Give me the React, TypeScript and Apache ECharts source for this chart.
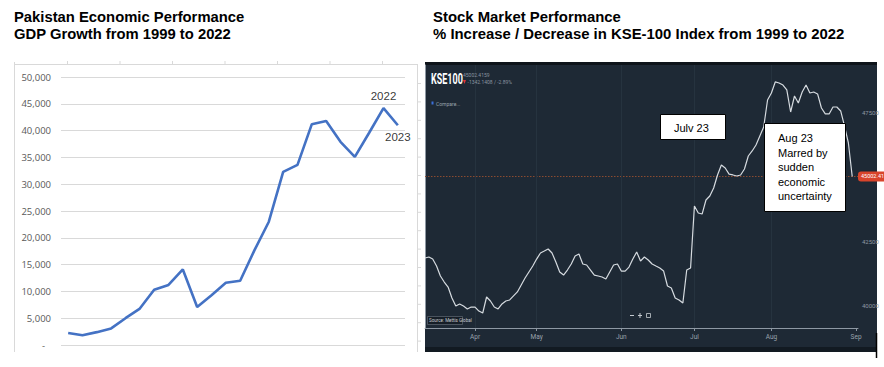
import React, { useEffect, useRef } from "react";
import * as echarts from "echarts";

// ---------- Left chart data (GDP, USD) ----------
const gdpYears = [
  "2000", "2001", "2002", "2003", "2004", "2005", "2006", "2007", "2008", "2009", "2010", "2011",
  "2012", "2013", "2014", "2015", "2016", "2017", "2018", "2019", "2020", "2021", "2022", "2023",
];
const gdpValues = [
  2240, 1820, 2400, 3100, 5000, 6800, 10300, 11200, 14100, 7100, 9300, 11600,
  12000, 17700, 23000, 32300, 33600, 41200, 41800, 37900, 35100, 39600, 44200, 41000,
];
const gdpAnnotated = ["2022", "2023"];

// ---------- Right chart data (KSE-100, trading days) ----------
const kseValues = [
  41840, 41880, 41800, 41530, 41145, 40910, 40715, 40290, 39980, 40060,
  39980, 39865, 39940, 39940, 39785, 39710, 40330, 40175, 39940, 39865,
  40060, 40175, 40215, 40370, 40525, 40795, 41065, 41300, 41530, 41800,
  42035, 42110, 42190, 42035, 41685, 41300, 41180, 41375, 41610, 41920,
  41995, 41610, 41570, 41375, 41180, 41145, 41105, 41025, 41300, 41570,
  41610, 41335, 41335, 41490, 41800, 42075, 41725, 41880, 41765, 41610,
  41530, 41455, 41335, 40755, 40680, 40290, 40215, 40095, 41375, 41455,
  43855, 43585, 43545, 44090, 44245, 44555, 45060, 45445, 45330, 45095,
  45060, 45020, 45060, 45290, 45795, 45990, 46220, 46570, 46920, 47965,
  48235, 48665, 48625, 48545, 48355, 47500, 48120, 47850, 48275, 48545,
  48235, 48275, 48200, 47655, 47425, 47425, 47695, 47695, 47540, 46955,
  46300, 45002,
];
const monthLabels = ["Apr", "May", "Jun", "Jul", "Aug", "Sep"];
const monthDays = [13, 29, 51, 70, 90, 112];
const kseTicks = [40000, 42500, 47500];
const lastPrice = 45002.41;

const leftTitle = ["Pakistan Economic Performance", "GDP Growth from 1999 to 2022"];
const rightTitle = ["Stock Market Performance", "% Increase / Decrease in KSE-100 Index from 1999 to 2022"];
const julyNote = "Julv 23";
const augNote = ["Aug 23", "Marred by", "sudden", "economic", "uncertainty"];

export default function App() {
  const ref = useRef<HTMLDivElement>(null);

  useEffect(() => {
    if (!ref.current) return;
    const chart = echarts.init(ref.current, null, { renderer: "svg" });

    const gray = "#d9d9d9";
    const graphics: any[] = [];

    // titles
    leftTitle.forEach((t, i) =>
      graphics.push({
        type: "text", x: 14, y: 17 + i * 16.5, z: 50,
        style: { text: t, font: "bold 14.8px 'Liberation Sans', Arial", fill: "#000", verticalAlign: "middle" },
      })
    );
    rightTitle.forEach((t, i) =>
      graphics.push({
        type: "text", x: 433, y: 17 + i * 16.5, z: 50,
        style: { text: t, font: "bold 14.9px 'Liberation Sans', Arial", fill: "#000", verticalAlign: "middle" },
      })
    );

    // left frame decorations
    graphics.push({ type: "line", z: 1, shape: { x1: 14.5, y1: 62, x2: 14.5, y2: 352 }, style: { stroke: gray, lineWidth: 1 } });
    graphics.push({ type: "line", z: 1, shape: { x1: 14, y1: 64.5, x2: 417, y2: 64.5 }, style: { stroke: gray, lineWidth: 1 } });
    graphics.push({ type: "line", z: 1, shape: { x1: 417.5, y1: 64, x2: 417.5, y2: 352 }, style: { stroke: gray, lineWidth: 1 } });
    for (let k = 0; k < 7; k++) {
      const x = 67.5 + k * 52.5;
      graphics.push({ type: "line", z: 1, shape: { x1: x, y1: 61, x2: x, y2: 64 }, style: { stroke: gray, lineWidth: 1 } });
    }
    for (let k = 0; k < 15; k++) {
      const y = 83.5 + k * 18.4;
      graphics.push({ type: "line", z: 1, shape: { x1: 417, y1: y, x2: 421, y2: y }, style: { stroke: gray, lineWidth: 1 } });
    }

    // dark panel
    graphics.push({ type: "rect", z: -10, shape: { x: 425, y: 62, width: 452, height: 290 }, style: { fill: "#1e2935" } });
    graphics.push({ type: "rect", z: -9, shape: { x: 425, y: 62, width: 452, height: 3 }, style: { fill: "#0e141a" } });
    graphics.push({ type: "rect", z: -9, shape: { x: 425, y: 347, width: 452, height: 5 }, style: { fill: "#121a22" } });
    graphics.push({ type: "line", z: 5, shape: { x1: 876.5, y1: 333, x2: 876.5, y2: 358 }, style: { stroke: "#000", lineWidth: 1.5 } });

    // stock header
    graphics.push({
      type: "text", x: 431, y: 79, scaleX: 0.6, z: 20,
      style: { text: "KSE100", font: "bold 15px Roboto", fill: "#ffffff", verticalAlign: "middle" },
    });
    graphics.push({
      type: "text", x: 463, y: 74.5, z: 20,
      style: { text: "45002.4159", font: "5px Roboto", fill: "#8a94a0", verticalAlign: "middle" },
    });
    graphics.push({
      type: "polygon", z: 20,
      shape: { points: [[463, 80], [466, 80], [464.5, 84]] },
      style: { fill: "#e0343a" },
    });
    graphics.push({
      type: "text", x: 467.5, y: 82, z: 20,
      style: { text: "-1342.1408 / -2.89%", font: "5px Roboto", fill: "#8a94a0", verticalAlign: "middle" },
    });
    graphics.push({ type: "rect", z: 20, shape: { x: 431.5, y: 101.5, width: 2, height: 3 }, style: { fill: "#3b6fd8" } });
    graphics.push({
      type: "text", x: 436, y: 103.5, z: 20,
      style: { text: "Compare...", font: "5px Roboto", fill: "#9aa3ad", verticalAlign: "middle" },
    });

    // source tag
    graphics.push({ type: "rect", z: 20, shape: { x: 427.5, y: 316.5, width: 35, height: 8 }, style: { fill: "#161e27", stroke: "#6b7480", lineWidth: 0.6 } });
    graphics.push({
      type: "text", x: 429, y: 320.5, z: 21,
      style: { text: "Source: Mettis Global", font: "4.5px Roboto", fill: "#c8ccd2", verticalAlign: "middle" },
    });

    // zoom controls
    graphics.push({ type: "line", z: 20, shape: { x1: 630, y1: 315.5, x2: 634, y2: 315.5 }, style: { stroke: "#c5cbd1", lineWidth: 1 } });
    graphics.push({ type: "line", z: 20, shape: { x1: 638, y1: 315.5, x2: 642, y2: 315.5 }, style: { stroke: "#c5cbd1", lineWidth: 1 } });
    graphics.push({ type: "line", z: 20, shape: { x1: 640, y1: 313, x2: 640, y2: 318 }, style: { stroke: "#c5cbd1", lineWidth: 1 } });
    graphics.push({ type: "rect", z: 20, shape: { x: 646.5, y: 313.5, width: 4, height: 4 }, style: { fill: "none", stroke: "#c5cbd1", lineWidth: 0.8 } });

    // annotation boxes
    graphics.push({ type: "rect", z: 100, shape: { x: 660.5, y: 114.5, width: 65, height: 25 }, style: { fill: "#fff", stroke: "#000", lineWidth: 1 } });
    graphics.push({
      type: "text", x: 674, y: 128, z: 101,
      style: { text: julyNote, font: "11px 'Liberation Sans', Arial", fill: "#000", verticalAlign: "middle" },
    });
    graphics.push({ type: "rect", z: 100, shape: { x: 764.5, y: 123.5, width: 81, height: 88 }, style: { fill: "#fff", stroke: "#000", lineWidth: 1 } });
    augNote.forEach((t, i) =>
      graphics.push({
        type: "text", x: 778, y: 138 + i * 14.5, z: 101,
        style: { text: t, font: "11px 'Liberation Sans', Arial", fill: "#000", verticalAlign: "middle" },
      })
    );

    const gdpLabelData = gdpValues.map((v, i) => {
      const yr = gdpYears[i];
      const k = gdpAnnotated.indexOf(yr);
      return k < 0 ? null : {
        value: [yr, v],
        label: {
          show: true, position: k === 0 ? "top" : "bottom", distance: 5,
          offset: k === 0 ? [-9, 0] : [0, 0], formatter: yr,
        },
      };
    }).filter((d) => d !== null);

    const option: any = {
      animation: false,
      backgroundColor: "#ffffff",
      grid: [
        { left: 61, right: 479, top: 77, bottom: 22, containLabel: false },
        { left: 425, right: 26, top: 65, bottom: 39, containLabel: false },
      ],
      xAxis: [
        {
          type: "category", gridIndex: 0, data: gdpYears, boundaryGap: true,
          axisLine: { show: false }, axisTick: { show: false }, axisLabel: { show: false }, splitLine: { show: false },
        },
        {
          type: "value", gridIndex: 1, min: 0, max: 112.5,
          axisLine: { show: true, lineStyle: { color: "#8e98a3", width: 1 } },
          axisTick: { show: true, customValues: monthDays, length: 3, inside: false, lineStyle: { color: "#8e98a3" } },
          axisLabel: {
            show: true, customValues: monthDays, color: "#9aa3ad", fontSize: 6.5, fontFamily: "Roboto", margin: 5,
            formatter: (v: number) => monthLabels[monthDays.indexOf(v)] ?? "",
          },
          splitLine: { show: false },
        },
      ],
      yAxis: [
        {
          type: "value", gridIndex: 0, min: 0, max: 50000, interval: 5000,
          axisLine: { show: false }, axisTick: { show: false },
          axisLabel: {
            color: "#595959", fontSize: 9.5, fontFamily: "'Open Sans', sans-serif", margin: 10,
            formatter: (v: number) => (v === 0 ? "{d|-}" : v.toLocaleString("en-US")),
            rich: { d: { padding: [0, 6, 0, 0], color: "#595959", fontSize: 9.5 } },
          },
          splitLine: { show: true, lineStyle: { color: gray, width: 1 } },
        },
        {
          type: "value", gridIndex: 1, min: 39128, max: 49322, position: "right",
          axisLine: { show: true, lineStyle: { color: "#8e98a3", width: 1 } },
          axisTick: { show: false },
          axisLabel: {
            show: true, customValues: kseTicks, color: "#8f98a3", fontSize: 6, fontFamily: "Roboto", margin: 4,
            formatter: (v: number) => String(v),
          },
          splitLine: { show: false },
        },
      ],
      series: [
        {
          type: "line", xAxisIndex: 0, yAxisIndex: 0, symbol: "none",
          lineStyle: { color: "#4472c4", width: 2.6 },
          data: gdpValues,
          z: 5,
        },
        {
          type: "scatter", xAxisIndex: 0, yAxisIndex: 0,
          symbol: "circle", symbolSize: 2,
          itemStyle: { color: "rgba(0,0,0,0)" },
          label: { show: true, color: "#000000", fontSize: 11.5, fontFamily: "'Liberation Sans', Arial" },
          labelLayout: { hideOverlap: false },
          data: gdpLabelData,
          z: 6,
        },
        {
          type: "line", xAxisIndex: 1, yAxisIndex: 1, symbol: "none",
          lineStyle: { color: "#d6dbe0", width: 1.2 },
          data: kseValues.map((v, i) => [i, v]),
          z: 5,
          markLine: {
            silent: true, symbol: "none", animation: false,
            data: [
              {
                yAxis: lastPrice,
                lineStyle: { color: "#8a4b30", type: [1.5, 1.5], width: 1 },
                label: {
                  show: true, position: "end", distance: 0,
                  formatter: lastPrice.toFixed(2),
                  color: "#ffffff", fontSize: 5.5, fontFamily: "Roboto",
                  backgroundColor: "#d8442b", padding: [2, 3, 2, 3], borderRadius: 3,
                },
              },
              ...monthDays.slice(0, 5).map((d) => ({
                xAxis: d,
                lineStyle: { color: "#26333f", type: "solid", width: 1 },
                label: { show: false },
              })),
            ],
          },
        },
      ],
      graphic: graphics,
    };

    chart.setOption(option);
    return () => chart.dispose();
  }, []);

  return (
    <div
      ref={ref}
      style={{ position: "absolute", left: 0, top: 0, width: 884, height: 367, background: "#fff" }}
    />
  );
}
